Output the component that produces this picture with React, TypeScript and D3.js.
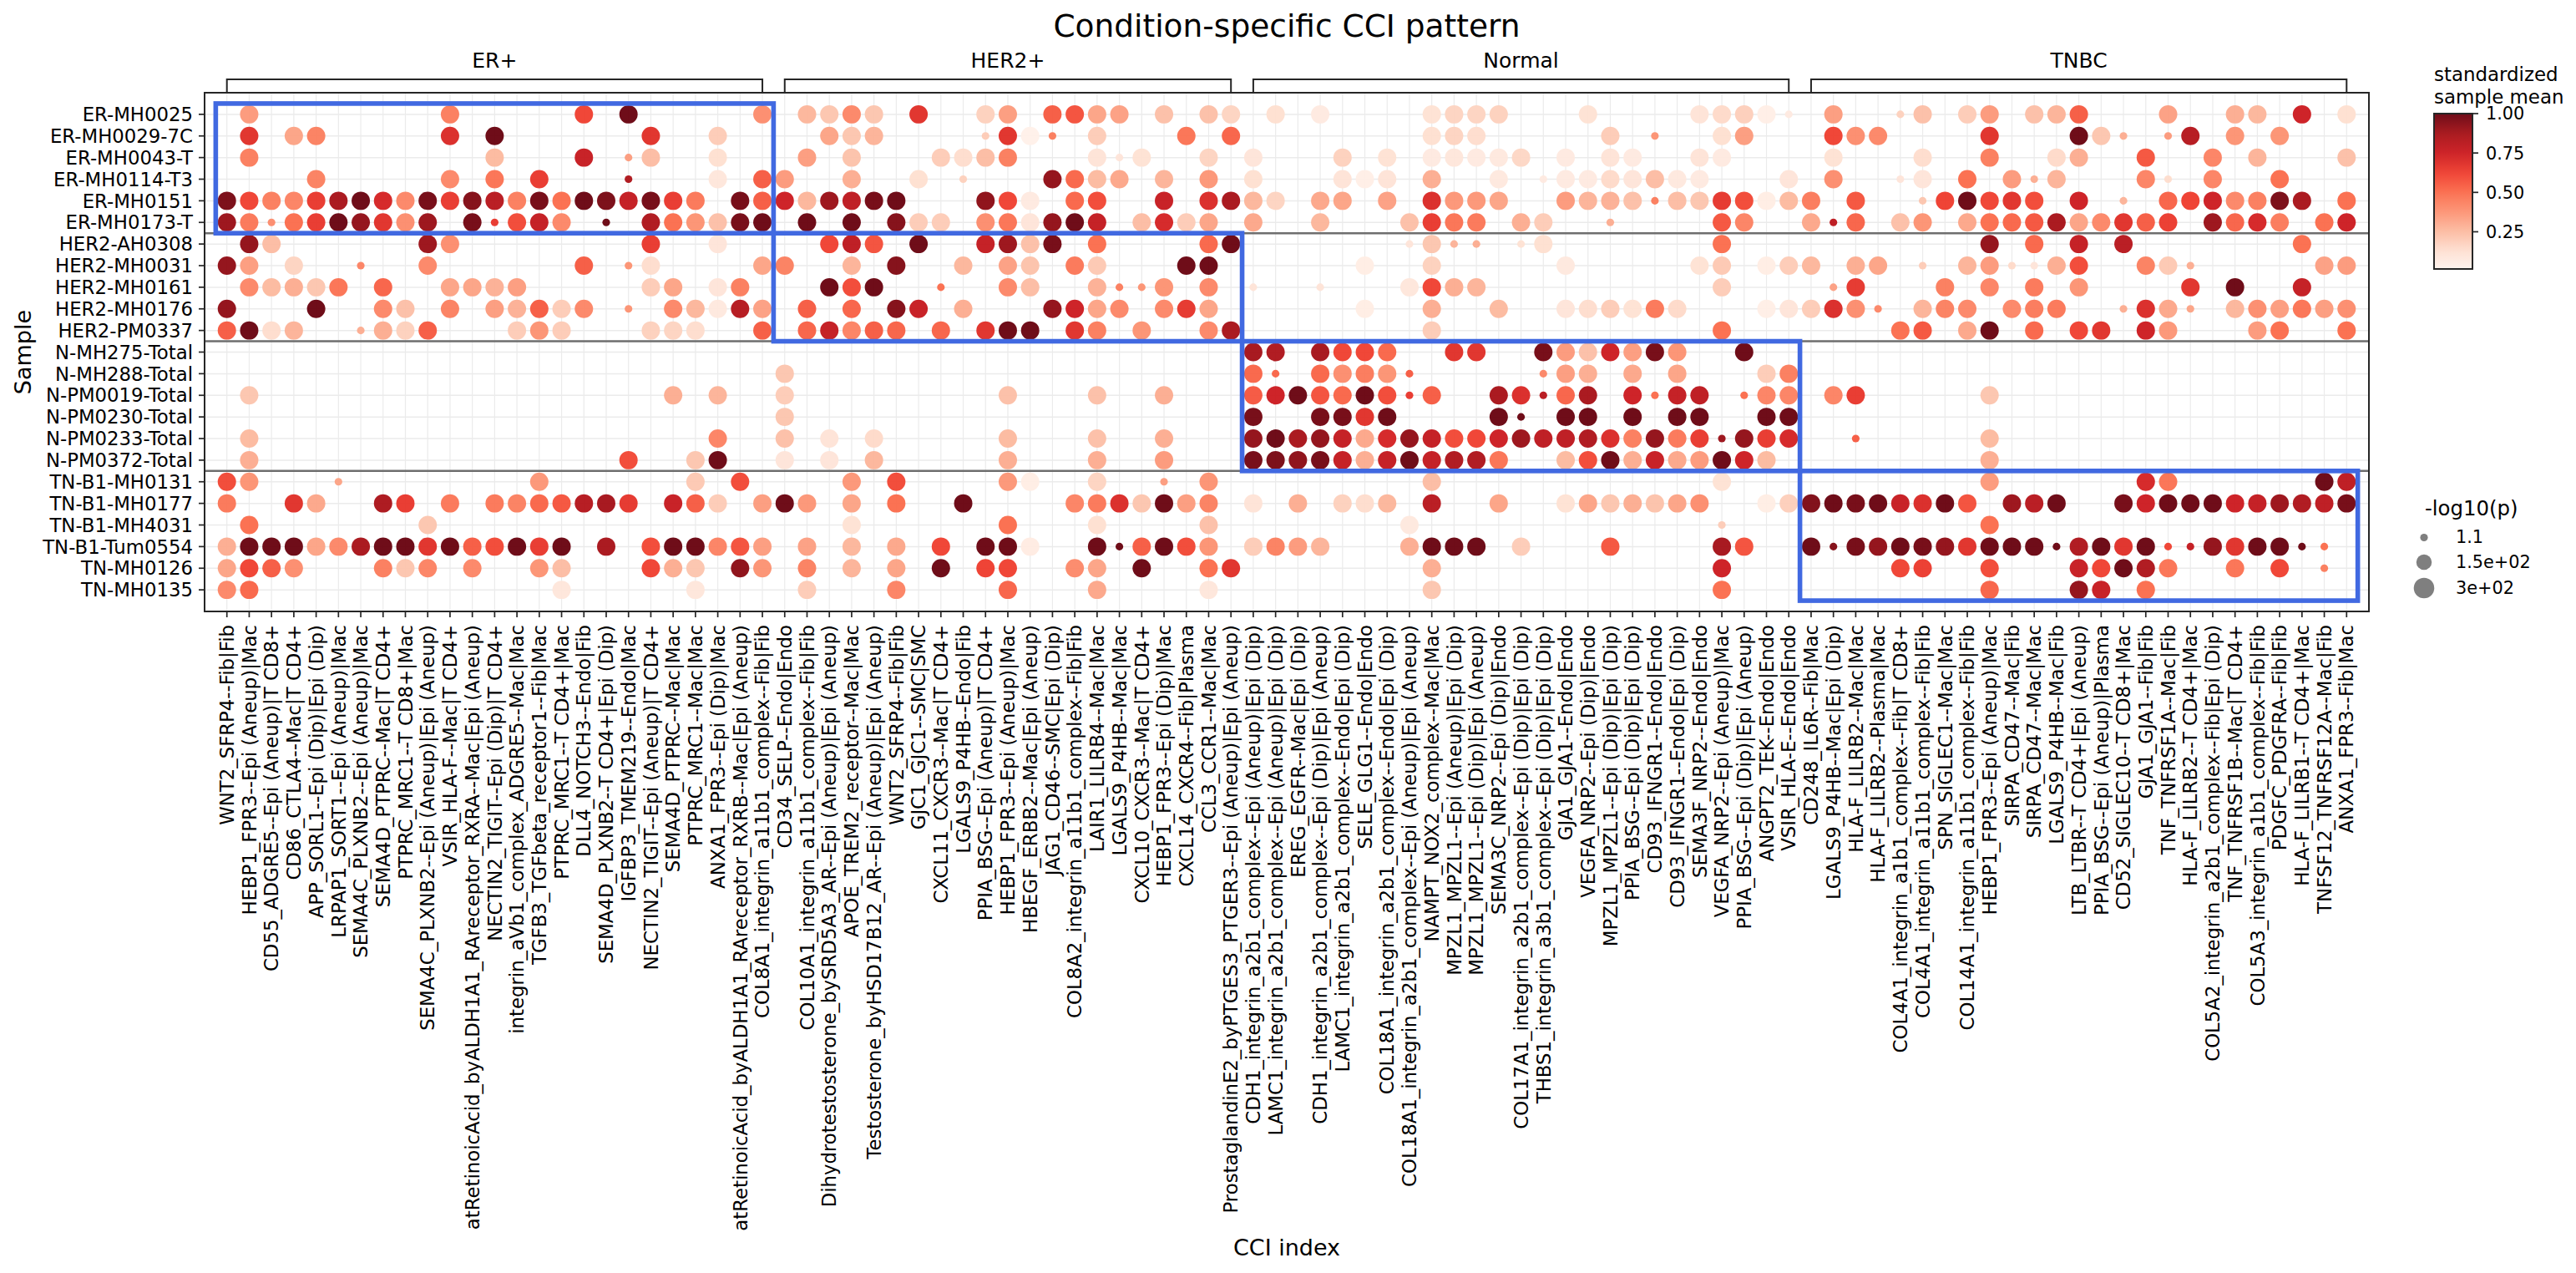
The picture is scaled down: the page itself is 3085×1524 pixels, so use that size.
import React from "react";
import * as d3 from "d3";

// ---------- categories ----------
const samples = ["ER-MH0025","ER-MH0029-7C","ER-MH0043-T","ER-MH0114-T3","ER-MH0151","ER-MH0173-T","HER2-AH0308","HER2-MH0031","HER2-MH0161","HER2-MH0176","HER2-PM0337","N-MH275-Total","N-MH288-Total","N-PM0019-Total","N-PM0230-Total","N-PM0233-Total","N-PM0372-Total","TN-B1-MH0131","TN-B1-MH0177","TN-B1-MH4031","TN-B1-Tum0554","TN-MH0126","TN-MH0135"];

const cciER = ["WNT2_SFRP4--Fib|Fib","HEBP1_FPR3--Epi (Aneup)|Mac","CD55_ADGRE5--Epi (Aneup)|T CD8+","CD86_CTLA4--Mac|T CD4+","APP_SORL1--Epi (Dip)|Epi (Dip)","LRPAP1_SORT1--Epi (Aneup)|Mac","SEMA4C_PLXNB2--Epi (Aneup)|Mac","SEMA4D_PTPRC--Mac|T CD4+","PTPRC_MRC1--T CD8+|Mac","SEMA4C_PLXNB2--Epi (Aneup)|Epi (Aneup)","VSIR_HLA-F--Mac|T CD4+","atRetinoicAcid_byALDH1A1_RAreceptor_RXRA--Mac|Epi (Aneup)","NECTIN2_TIGIT--Epi (Dip)|T CD4+","integrin_aVb1_complex_ADGRE5--Mac|Mac","TGFB3_TGFbeta_receptor1--Fib|Mac","PTPRC_MRC1--T CD4+|Mac","DLL4_NOTCH3--Endo|Fib","SEMA4D_PLXNB2--T CD4+|Epi (Dip)","IGFBP3_TMEM219--Endo|Mac","NECTIN2_TIGIT--Epi (Aneup)|T CD4+","SEMA4D_PTPRC--Mac|Mac","PTPRC_MRC1--Mac|Mac","ANXA1_FPR3--Epi (Dip)|Mac","atRetinoicAcid_byALDH1A1_RAreceptor_RXRB--Mac|Epi (Aneup)","COL8A1_integrin_a11b1_complex--Fib|Fib"];
const cciHER2 = ["CD34_SELP--Endo|Endo","COL10A1_integrin_a11b1_complex--Fib|Fib","Dihydrotestosterone_bySRD5A3_AR--Epi (Aneup)|Epi (Aneup)","APOE_TREM2_receptor--Mac|Mac","Testosterone_byHSD17B12_AR--Epi (Aneup)|Epi (Aneup)","WNT2_SFRP4--Fib|Fib","GJC1_GJC1--SMC|SMC","CXCL11_CXCR3--Mac|T CD4+","LGALS9_P4HB--Endo|Fib","PPIA_BSG--Epi (Aneup)|T CD4+","HEBP1_FPR3--Epi (Aneup)|Mac","HBEGF_ERBB2--Mac|Epi (Aneup)","JAG1_CD46--SMC|Epi (Dip)","COL8A2_integrin_a11b1_complex--Fib|Fib","LAIR1_LILRB4--Mac|Mac","LGALS9_P4HB--Mac|Mac","CXCL10_CXCR3--Mac|T CD4+","HEBP1_FPR3--Epi (Dip)|Mac","CXCL14_CXCR4--Fib|Plasma","CCL3_CCR1--Mac|Mac","ProstaglandinE2_byPTGES3_PTGER3--Epi (Aneup)|Epi (Aneup)"];
const cciNormal = ["CDH1_integrin_a2b1_complex--Epi (Aneup)|Epi (Dip)","LAMC1_integrin_a2b1_complex--Epi (Aneup)|Epi (Dip)","EREG_EGFR--Mac|Epi (Dip)","CDH1_integrin_a2b1_complex--Epi (Dip)|Epi (Aneup)","LAMC1_integrin_a2b1_complex--Endo|Epi (Dip)","SELE_GLG1--Endo|Endo","COL18A1_integrin_a2b1_complex--Endo|Epi (Dip)","COL18A1_integrin_a2b1_complex--Epi (Aneup)|Epi (Aneup)","NAMPT_NOX2_complex--Mac|Mac","MPZL1_MPZL1--Epi (Aneup)|Epi (Dip)","MPZL1_MPZL1--Epi (Dip)|Epi (Aneup)","SEMA3C_NRP2--Epi (Dip)|Endo","COL17A1_integrin_a2b1_complex--Epi (Dip)|Epi (Dip)","THBS1_integrin_a3b1_complex--Epi (Dip)|Epi (Dip)","GJA1_GJA1--Endo|Endo","VEGFA_NRP2--Epi (Dip)|Endo","MPZL1_MPZL1--Epi (Dip)|Epi (Dip)","PPIA_BSG--Epi (Dip)|Epi (Dip)","CD93_IFNGR1--Endo|Endo","CD93_IFNGR1--Endo|Epi (Dip)","SEMA3F_NRP2--Endo|Endo","VEGFA_NRP2--Epi (Aneup)|Mac","PPIA_BSG--Epi (Dip)|Epi (Aneup)","ANGPT2_TEK--Endo|Endo","VSIR_HLA-E--Endo|Endo"];
const cciTNBC = ["CD248_IL6R--Fib|Mac","LGALS9_P4HB--Mac|Epi (Dip)","HLA-F_LILRB2--Mac|Mac","HLA-F_LILRB2--Plasma|Mac","COL4A1_integrin_a1b1_complex--Fib|T CD8+","COL4A1_integrin_a11b1_complex--Fib|Fib","SPN_SIGLEC1--Mac|Mac","COL14A1_integrin_a11b1_complex--Fib|Fib","HEBP1_FPR3--Epi (Aneup)|Mac","SIRPA_CD47--Mac|Fib","SIRPA_CD47--Mac|Mac","LGALS9_P4HB--Mac|Fib","LTB_LTBR--T CD4+|Epi (Aneup)","PPIA_BSG--Epi (Aneup)|Plasma","CD52_SIGLEC10--T CD8+|Mac","GJA1_GJA1--Fib|Fib","TNF_TNFRSF1A--Mac|Fib","HLA-F_LILRB2--T CD4+|Mac","COL5A2_integrin_a2b1_complex--Fib|Epi (Dip)","TNF_TNFRSF1B--Mac|T CD4+","COL5A3_integrin_a1b1_complex--Fib|Fib","PDGFC_PDGFRA--Fib|Fib","HLA-F_LILRB1--T CD4+|Mac","TNFSF12_TNFRSF12A--Mac|Fib","ANXA1_FPR3--Fib|Mac"];
const cciLabels = [...cciER, ...cciHER2, ...cciNormal, ...cciTNBC];

const conditions = ["ER+", "HER2+", "Normal", "TNBC"];
const conditionCounts = [cciER.length, cciHER2.length, cciNormal.length, cciTNBC.length];
const conditionSampleCounts = [6, 5, 6, 6];

const colorTicks = [1, 0.75, 0.5, 0.25];
const colorBarRange = [0.014, 1];
const sizeLegendValues = [1.1, 150, 300];
const sizeLegendLabels = ["1.1", "1.5e+02", "3e+02"];
const redsPalette = ["#fff5f0","#fee0d2","#fcbba1","#fc9272","#fb6a4a","#ef3b2c","#cb181d","#a50f15","#67000d"];

// ---------- series: [column, standardized mean, optional -log10(p) when not the usual ~230] ----------
const P_SMALL = 1.1;
const P_USUAL = 230;
const ER_MH0025 = [[1,.36],[10,.45],[16,.62],[18,1],[24,.4],[26,.27],[27,.22],[28,.42],[29,.22],[31,.68],[34,.18],[35,.35],[37,.55],[38,.58],[39,.33],[40,.34],[42,.24],[44,.24],[45,.17],[47,.13],[49,.07],[54,.12],[55,.17],[56,.17],[57,.18],[61,.12],[66,.11],[67,.15],[68,.19],[69,.04],[70,.07,P_SMALL],[72,.35],[75,.18,P_SMALL],[76,.24],[78,.2],[79,.36],[81,.24],[82,.28],[83,.55],[87,.34],[90,.3],[91,.27],[93,.75],[95,.13]];
const ER_MH0029 = [[1,.68],[3,.33],[4,.44],[10,.7],[12,1],[19,.68],[22,.2],[27,.33],[28,.22],[29,.28],[34,.2,P_SMALL],[35,.68],[36,.03],[37,.45,P_SMALL],[39,.2],[43,.48],[45,.53],[54,.13],[55,.17],[56,.14],[62,.2],[64,.38,P_SMALL],[67,.13],[68,.35],[72,.62],[73,.4],[74,.42],[79,.68],[83,1],[84,.22],[85,.3,P_SMALL],[87,.36,P_SMALL],[88,.83],[90,.38],[92,.38]];
const ER_MH0043 = [[1,.45],[12,.26],[16,.77],[18,.35,P_SMALL],[19,.25],[22,.13],[26,.35],[28,.23],[32,.2],[33,.14],[34,.25],[35,.45],[39,.11],[40,.1,P_SMALL],[41,.12],[44,.17],[46,.1],[50,.18],[52,.12],[54,.07],[55,.09],[56,.07],[57,.08],[58,.16],[60,.07],[62,.11],[63,.07],[66,.11],[67,.07],[72,.12],[76,.14],[79,.45],[82,.15],[83,.3],[86,.57],[89,.43],[91,.28],[95,.24]];
const ER_MH0114 = [[4,.44],[10,.42],[12,.48],[14,.65],[18,.85,P_SMALL],[22,.09],[24,.55],[25,.36],[28,.3],[31,.13],[33,.18,P_SMALL],[37,.92],[38,.52],[39,.26],[40,.32],[42,.28],[44,.37],[46,.13],[50,.11],[51,.04],[52,.11],[54,.3],[57,.08],[59,.07,P_SMALL],[60,.07],[61,.07],[62,.15],[63,.1],[64,.25],[65,.08],[66,.07],[70,.1],[72,.4],[75,.1,P_SMALL],[76,.1],[78,.5],[80,.36],[81,.3,P_SMALL],[82,.28],[86,.43],[87,.14,P_SMALL],[89,.43],[92,.5]];
const ER_MH0151 = [[0,.97],[1,.62],[2,.45],[3,.43],[4,.65],[5,.87],[6,1],[7,.72],[8,.42],[9,.98],[10,.65],[11,.95],[12,.82],[13,.45],[14,.98],[15,.5],[16,1],[17,.97],[18,.78],[19,.98],[20,.65],[21,.47],[23,.98],[24,.55],[25,.75],[26,.27],[27,.9],[28,.8],[29,.98],[30,1],[34,.93],[35,.62],[36,.07],[38,.52],[39,.6],[42,.77],[44,.7],[45,.87],[46,.27],[47,.17],[49,.32],[50,.33],[52,.34],[54,.7],[55,.37],[56,.37],[57,.33],[60,.36],[61,.28],[62,.29],[63,.24],[64,.45,P_SMALL],[65,.25],[66,.22],[67,.66],[68,.6],[69,.05],[70,.26],[71,.46],[73,.57],[76,.22,P_SMALL],[77,.63],[78,1],[79,.62],[80,.68],[81,.6],[83,.75],[85,.28,P_SMALL],[87,.53],[88,.63],[89,.75],[90,.42],[91,.45],[92,.97],[93,.87],[95,.5]];
const ER_MH0173 = [[0,.9],[1,.47],[2,.4,P_SMALL],[3,.5],[4,.65],[5,1],[6,.92],[7,.68],[8,.4],[9,.9],[11,.98],[12,.65,P_SMALL],[13,.6],[14,.78],[15,.42],[17,1,P_SMALL],[19,.85],[20,.5],[21,.38],[22,.24],[23,.98],[24,1],[26,1],[28,1],[30,.95],[31,.2],[32,.2],[34,.4],[35,.48],[36,.1],[37,.92],[38,1],[39,.78],[41,.25],[42,.72],[43,.2],[44,.33],[46,.32],[49,.27],[53,.24],[54,.65],[55,.48],[56,.47],[58,.3],[59,.2],[62,.3,P_SMALL],[67,.57],[68,.43],[71,.32],[72,.8,P_SMALL],[73,.53],[75,.24],[76,.38],[78,.32],[79,.5],[80,.52],[81,.57],[82,.87],[83,.33],[84,.42],[85,.68],[86,.55],[87,.64],[89,.9],[90,.53],[91,.72],[92,.46],[94,.5],[95,.75]];
const HER2_AH0308 = [[1,.92],[2,.25],[9,.9],[10,.4],[19,.65],[22,.1],[27,.62],[28,.8],[29,.58],[31,1],[34,.78],[35,.9],[36,.24],[37,.98],[39,.5],[44,.52],[45,1],[53,.1,P_SMALL],[54,.22],[55,.28,P_SMALL],[56,.3,P_SMALL],[58,.12,P_SMALL],[59,.13],[67,.5],[79,.92],[81,.52],[83,.78],[85,.82],[93,.5]];
const HER2_MH0031 = [[0,.92],[1,.35],[3,.17],[6,.43,P_SMALL],[9,.42],[16,.55],[18,.38,P_SMALL],[19,.14],[24,.33],[25,.44],[28,.28],[30,.95],[33,.27],[35,.34],[36,.23],[38,.47],[39,.21],[43,1],[44,1],[51,.05],[54,.18],[60,.08],[66,.12],[67,.21],[69,.05],[70,.2],[71,.27],[73,.3],[74,.33],[76,.2,P_SMALL],[78,.28],[79,.36],[80,.15,P_SMALL],[81,.1,P_SMALL],[82,.3],[83,.6],[86,.44],[87,.21],[88,.3,P_SMALL],[94,.34],[95,.36]];
const HER2_MH0161 = [[1,.42],[2,.26],[3,.3],[4,.22],[5,.48],[7,.53],[10,.33],[11,.33],[12,.29],[13,.35],[19,.2],[20,.33],[22,.1],[23,.45],[27,1],[28,.6],[29,1],[32,.5,P_SMALL],[35,.42],[36,.25],[39,.29],[40,.45,P_SMALL],[41,.38,P_SMALL],[42,.38],[44,.42],[46,.11,P_SMALL],[49,.11,P_SMALL],[53,.09],[54,.62],[55,.3],[56,.28],[67,.2],[72,.34,P_SMALL],[73,.66],[77,.45],[79,.43],[81,.47],[83,.38],[88,.68],[90,1],[93,.78]];
const HER2_MH0176 = [[0,.92],[4,1],[7,.42],[8,.24],[10,.44],[12,.35],[13,.29],[14,.55],[15,.2],[16,.42],[18,.38,P_SMALL],[20,.42],[21,.27],[22,.08],[23,.83],[24,.34],[26,.55],[28,.53],[30,.95],[31,.77],[33,.3],[37,.92],[38,.75],[39,.33],[40,.42],[42,.42],[43,.66],[44,.33],[51,.05],[54,.3],[57,.26],[60,.1],[61,.14],[62,.2],[63,.12],[64,.47],[65,.15],[69,.04],[70,.1],[71,.2],[72,.7],[73,.4],[74,.42,P_SMALL],[76,.28],[77,.44],[78,.42],[80,.42],[81,.46],[82,.47],[85,.3,P_SMALL],[86,.7],[87,.32],[88,.33,P_SMALL],[90,.27],[91,.4],[92,.35],[93,.48],[94,.35],[95,.4]];
const HER2_PM0337 = [[0,.55],[1,1],[2,.14],[3,.28],[6,.3,P_SMALL],[7,.3],[8,.18],[9,.55],[13,.2],[14,.38],[15,.2],[19,.18],[20,.17],[21,.14],[24,.55],[26,.53],[27,.78],[28,.43],[29,.55],[30,.53],[32,.53],[34,.68],[35,1],[36,1],[38,.68],[39,.45],[41,.38],[44,.42],[45,.87],[54,.2],[67,.5],[75,.5],[76,.57],[78,.32],[79,1],[81,.52],[83,.62],[84,.68],[86,.75],[87,.37],[91,.36],[92,.5],[95,.5]];
const N_MH275 = [[46,.88],[47,.85],[49,.88],[50,.62],[51,.62],[52,.52],[55,.68],[56,.68],[59,.98],[60,.36],[61,.24],[62,.75],[63,.35],[64,.98],[65,.38],[68,1]];
const N_MH288 = [[25,.22],[46,.52],[47,.52,P_SMALL],[49,.52],[50,.4],[51,.46],[52,.38],[53,.55,P_SMALL],[59,.42,P_SMALL],[60,.35],[61,.3],[63,.32],[65,.33],[69,.2],[70,.45]];
const N_PM0019 = [[1,.22],[20,.3],[22,.28],[25,.2],[35,.24],[39,.24],[42,.3],[46,.56],[47,.75],[48,1],[49,.58],[50,.52],[51,1],[52,.6],[53,.65,P_SMALL],[54,.55],[57,.87],[58,.7],[59,.82,P_SMALL],[60,.53],[61,.87],[63,.75],[64,.5,P_SMALL],[65,.78],[66,.8],[68,.5,P_SMALL],[69,.43],[70,.43],[72,.43],[73,.65],[79,.22]];
const N_PM0230 = [[25,.22],[46,.98],[49,.98],[50,.98],[51,.68],[52,1],[57,1],[58,1,P_SMALL],[60,1],[61,1],[63,1],[65,1],[66,1],[69,1],[70,1]];
const N_PM0233 = [[1,.26],[22,.43],[25,.24],[27,.11],[29,.15],[35,.26],[39,.24],[42,.3],[46,.92],[47,1],[48,.87],[49,.92],[50,.78],[51,.32],[52,.72],[53,.92],[54,.78],[55,.6],[56,.62],[57,.75],[58,.9],[59,.8],[60,.8],[61,.85],[62,.7],[63,.45],[64,.92],[65,.47],[66,.65],[67,.9,P_SMALL],[68,.92],[69,.65],[70,.72],[73,.55,P_SMALL],[79,.26]];
const N_PM0372 = [[1,.3],[18,.6],[21,.22],[22,1],[25,.1],[27,.1],[29,.27],[35,.3],[39,.3],[42,.36],[46,.98],[47,.97],[48,.93],[49,.98],[50,.78],[51,.3],[52,.78],[53,1],[54,.78],[55,.85],[56,.85],[57,.48],[60,.26],[61,.6],[62,1],[63,.3],[64,.77],[65,.32],[66,.36],[67,1],[68,.75],[69,.26],[79,.3]];
const TN_MH0131 = [[0,.6],[1,.38],[5,.33,P_SMALL],[14,.37],[21,.21],[23,.6],[28,.37],[30,.6],[35,.37],[36,.05],[39,.17],[42,.35,P_SMALL],[44,.38],[54,.25],[67,.12],[79,.36],[86,.72],[87,.48],[94,1],[95,.8]];
const TN_MH0177 = [[0,.47],[3,.68],[4,.32],[7,.86],[8,.65],[10,.47],[12,.47],[13,.44],[14,.52],[15,.57],[16,.83],[17,.88],[18,.66],[20,.77],[21,.55],[22,.2],[24,.35],[25,1],[26,.37],[28,.33],[30,.5],[33,1],[38,.43],[39,.47],[40,.7],[41,.22],[42,1],[43,.35],[44,.44],[46,.11],[48,.3],[50,.18],[51,.14],[52,.27],[54,.82],[57,.33],[60,.12],[61,.33],[62,.22],[63,.3],[64,.23],[65,.33],[66,.4],[69,.05],[70,.19],[71,.96],[72,1],[73,.98],[74,1],[75,.77],[76,.7],[77,1],[78,.58],[80,.9],[81,.82],[82,1],[85,.98],[86,.75],[87,1],[88,1],[89,1],[90,.75],[91,.78],[92,.9],[93,.85],[94,.8],[95,.98]];
const TN_MH4031 = [[1,.5],[9,.22],[28,.12],[35,.5],[39,.13],[44,.24],[53,.08],[67,.2,P_SMALL],[79,.5]];
const TN_Tum0554 = [[0,.3],[1,1],[2,1],[3,1],[4,.33],[5,.42],[6,.87],[7,1],[8,1],[9,.68],[10,1],[11,.55],[12,.6],[13,1],[14,.65],[15,1],[17,.87],[19,.6],[20,1],[21,1],[22,.43],[23,.58],[24,.35],[26,.34],[28,.27],[30,.32],[32,.62],[34,1],[35,1],[36,.06],[39,1],[40,1,P_SMALL],[41,.55],[42,1],[43,.6],[44,.38],[46,.2],[47,.44],[48,.36],[49,.28],[53,.3],[54,1],[55,1],[56,1],[58,.2],[62,.57],[67,.88],[68,.58],[71,1],[72,.95,P_SMALL],[73,.98],[74,.92],[75,1],[76,.98],[77,.92],[78,.68],[79,1],[80,1],[81,1],[82,1,P_SMALL],[83,.85],[84,1],[85,.68],[86,1],[87,.62,P_SMALL],[88,.78,P_SMALL],[89,.92],[90,.68],[91,1],[92,1],[93,1,P_SMALL],[94,.5,P_SMALL]];
const TN_MH0126 = [[0,.33],[1,.62],[2,.55],[3,.4],[7,.45],[8,.22],[9,.43],[11,.42],[14,.38],[15,.25],[19,.62],[20,.3],[21,.22],[23,.93],[24,.38],[26,.44],[28,.28],[30,.33],[32,1],[34,.63],[35,.62],[38,.41],[39,.33],[41,1],[44,.5],[45,.68],[54,.3],[67,.75],[75,.62],[76,.64],[79,.6],[83,.77],[84,.62],[85,1],[86,.85],[87,.48],[90,.48],[92,.62],[94,.45,P_SMALL]];
const TN_MH0135 = [[0,.42],[1,.52],[15,.09],[21,.09],[26,.2],[30,.43],[35,.53],[39,.32],[44,.09],[54,.22],[67,.5],[79,.53],[83,.92],[84,.77],[86,.5]];
const rows = [ER_MH0025,ER_MH0029,ER_MH0043,ER_MH0114,ER_MH0151,ER_MH0173,HER2_AH0308,HER2_MH0031,HER2_MH0161,HER2_MH0176,HER2_PM0337,N_MH275,N_MH288,N_PM0019,N_PM0230,N_PM0233,N_PM0372,TN_MH0131,TN_MH0177,TN_MH4031,TN_Tum0554,TN_MH0126,TN_MH0135];

// ---------- layout ----------
const W = 3085, H = 1524;
const FONT = "'DejaVu Sans', sans-serif";
const FS_TICK = 22.8;
const FS_LEG = 20.8;
const AX = { l: 245, r: 2837, t: 111, b: 732 };
const x = d3.scaleLinear().domain([-1, 96]).range([AX.l, AX.r]);
const y = d3.scaleLinear().domain([-1, 23]).range([AX.t, AX.b]);
const color = d3.scaleLinear<string>().domain(redsPalette.map((_, i) => i / 8)).range(redsPalette).interpolate(d3.interpolateRgb).clamp(true);
const area = d3.scaleLinear().domain([1.1, 300]).range([21, 151]);
const radius = (p: number) => Math.sqrt(area(p));
const cbY = d3.scaleLinear().domain([1, colorBarRange[0]]).range([136, 322]);
const INK = "#262626";

function cumulative(counts: number[]) {
  const out = [0];
  counts.forEach((c) => out.push(out[out.length - 1] + c));
  return out;
}

export default function App() {
  const colEdges = cumulative(conditionCounts);
  const rowEdges = cumulative(conditionSampleCounts);
  const cbStops = d3.range(0, 1.0001, 0.05);
  return (
    <svg width={W} height={H} viewBox={`0 0 ${W} ${H}`} style={{ position: "absolute", left: 0, top: 0, background: "#fff" }} fontFamily={FONT} fill="#000">
      <defs>
        <linearGradient id="cb" x1="0" y1="1" x2="0" y2="0">
          {cbStops.map((t) => (
            <stop key={t} offset={t} stopColor={color(colorBarRange[0] + t * (colorBarRange[1] - colorBarRange[0]))} />
          ))}
        </linearGradient>
      </defs>
      <text x={(AX.l + AX.r) / 2} y={44} textAnchor="middle" fontSize={37.5}>Condition-specific CCI pattern</text>

      {/* grid */}
      <g stroke="#ebebeb" strokeWidth={1.2}>
        {cciLabels.map((_, i) => <line key={i} x1={x(i)} x2={x(i)} y1={AX.t} y2={AX.b} />)}
        {samples.map((_, i) => <line key={i} x1={AX.l} x2={AX.r} y1={y(i)} y2={y(i)} strokeWidth={1.5} />)}
      </g>

      {/* dots */}
      <g>
        {rows.map((row, r) => row.map((d, k) => (
          <circle key={`${r}-${k}`} cx={x(d[0])} cy={y(r)} r={radius(d[2] ?? P_USUAL)} fill={color(d[1])} fillOpacity={0.95} />
        )))}
      </g>

      {/* group dividers */}
      <g stroke="#6e6e6e" strokeWidth={2.6}>
        {rowEdges.slice(1, -1).map((e) => <line key={e} x1={AX.l} x2={AX.r} y1={y(e - 0.5)} y2={y(e - 0.5)} />)}
      </g>

      {/* highlight boxes */}
      <g fill="none" stroke="#4169e1" strokeWidth={5.6}>
        {conditions.map((c, i) => (
          <rect key={c} x={x(colEdges[i] - 0.5)} y={y(rowEdges[i] - 0.5)} width={x(colEdges[i + 1] - 0.5) - x(colEdges[i] - 0.5)} height={y(rowEdges[i + 1] - 0.5) - y(rowEdges[i] - 0.5)} />
        ))}
      </g>

      {/* frame */}
      <rect x={AX.l} y={AX.t} width={AX.r - AX.l} height={AX.b - AX.t} fill="none" stroke={INK} strokeWidth={2} />

      {/* brackets */}
      <g fill="none" stroke={INK} strokeWidth={2}>
        {conditions.map((c, i) => {
          const a = x(colEdges[i]), b = x(colEdges[i + 1] - 1);
          return <path key={c} d={`M${a},${AX.t}V95H${b}V${AX.t}`} />;
        })}
      </g>
      <g fontSize={25} textAnchor="middle">
        {conditions.map((c, i) => (
          <text key={c} x={(x(colEdges[i]) + x(colEdges[i + 1] - 1)) / 2} y={81}>{c}</text>
        ))}
      </g>

      {/* y axis */}
      <g fontSize={FS_TICK} textAnchor="end">
        {samples.map((s, i) => (
          <g key={s}>
            <line x1={AX.l - 7} x2={AX.l} y1={y(i)} y2={y(i)} stroke={INK} strokeWidth={1.7} />
            <text x={AX.l - 14} y={y(i)} dy="0.36em">{s}</text>
          </g>
        ))}
      </g>

      {/* x axis */}
      <g fontSize={FS_TICK} textAnchor="end">
        {cciLabels.map((s, i) => (
          <g key={i}>
            <line x1={x(i)} x2={x(i)} y1={AX.b} y2={AX.b + 7} stroke={INK} strokeWidth={1.7} />
            <text transform={`translate(${x(i)},${AX.b + 16}) rotate(-90)`} dy="0.36em">{s}</text>
          </g>
        ))}
      </g>

      <text x={(AX.l + AX.r) / 2} y={1503} textAnchor="middle" fontSize={27}>CCI index</text>
      <text transform={`translate(37,${(AX.t + AX.b) / 2}) rotate(-90)`} textAnchor="middle" fontSize={27}>Sample</text>

      {/* colour bar */}
      <text fontSize={22.9} x={2915} y={97}>standardized</text>
      <text fontSize={22.9} x={2915} y={124}>sample mean</text>
      <rect x={2915} y={cbY(1)} width={46} height={cbY(colorBarRange[0]) - cbY(1)} fill="url(#cb)" fillOpacity={0.95} stroke={INK} strokeWidth={2} />
      <g fontSize={FS_LEG}>
        {colorTicks.map((t) => (
          <g key={t}>
            <line x1={2961} x2={2968} y1={cbY(t)} y2={cbY(t)} stroke={INK} strokeWidth={1.7} />
            <text x={2977} y={cbY(t)} dy="0.36em">{t.toFixed(2)}</text>
          </g>
        ))}
      </g>

      {/* size legend */}
      <text fontSize={24.4} x={2904} y={617}>-log10(p)</text>
      <g fontSize={FS_LEG}>
        {sizeLegendValues.map((v, i) => {
          const cy = [643.5, 673, 704][i];
          return (
            <g key={v}>
              <circle cx={2903} cy={cy} r={radius(v)} fill="#7f7f7f" />
              <text x={2941} y={cy} dy="0.32em">{sizeLegendLabels[i]}</text>
            </g>
          );
        })}
      </g>
    </svg>
  );
}
